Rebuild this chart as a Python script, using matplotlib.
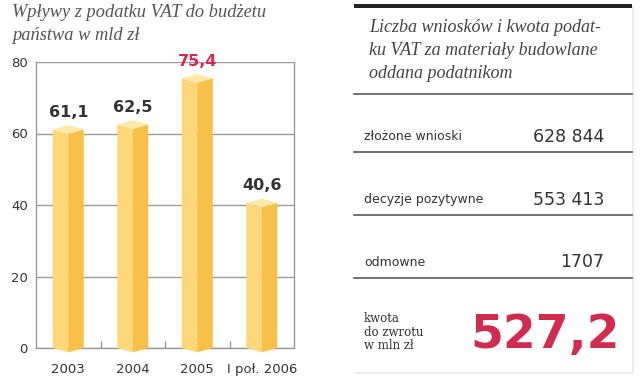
import matplotlib
matplotlib.use("Agg")
import matplotlib.pyplot as plt
from matplotlib.patches import Polygon, Rectangle

# left chart data
years = ["2003", "2004", "2005", "I poł. 2006"]
vat_bln = [61.1, 62.5, 75.4, 40.6]
value_labels = ["61,1", "62,5", "75,4", "40,6"]
highlight = 2
y_ticks = [0, 20, 40, 60, 80]

# right panel data
row_labels = ["złożone wnioski", "decyzje pozytywne", "odmowne"]
row_values = ["628 844", "553 413", "1707"]
refund_label = "kwota\ndo zwrotu\nw mln zł"
refund_value = "527,2"

LIGHT = "#fdd77a"
DARK = "#f8c048"
TOP = "#fee9a6"
RED = "#d02c50"
TXT = "#333333"
GRID = "#9a9a9a"

W, H = 640, 388
fig = plt.figure(figsize=(W / 100, H / 100), dpi=100)


def px_box(x0, y0, x1, y1):
    return [x0 / W, 1 - y1 / H, (x1 - x0) / W, (y1 - y0) / H]


# ---- bar chart ----
ax = fig.add_axes(px_box(36, 62, 294, 348))
ax.set_xlim(-0.5, len(years) - 0.5)
ax.set_ylim(0, 80)

half = 0.24
d = 1.2
for i, v in enumerate(vat_bln):
    ax.add_patch(Polygon([(i - half, 0), (i - half, v), (i, v - d), (i, -d)],
                         closed=True, fc=LIGHT, ec="none", zorder=3, clip_on=False))
    ax.add_patch(Polygon([(i, -d), (i, v - d), (i + half, v), (i + half, 0)],
                         closed=True, fc=DARK, ec="none", zorder=3, clip_on=False))
    ax.add_patch(Polygon([(i - half, v), (i, v - d), (i + half, v), (i, v + d)],
                         closed=True, fc=TOP, ec="none", zorder=4, clip_on=False))
    ax.annotate(value_labels[i], (i, v), xytext=(0, 7), textcoords="offset points",
                ha="center", va="bottom", fontsize=11.5, fontweight="bold",
                color=RED if i == highlight else TXT, zorder=5, annotation_clip=False)

ax.set_yticks(y_ticks)
ax.set_yticklabels([str(t) for t in y_ticks])
ax.yaxis.grid(True, color=GRID, linewidth=1)
ax.set_axisbelow(True)
ax.tick_params(axis="y", length=0, pad=6, labelsize=9.5, labelcolor=TXT)

ax.set_xticks(range(len(years)))
ax.set_xticklabels(years)
ax.set_xticks([0.5, 1.5, 2.5], minor=True)
ax.tick_params(axis="x", which="major", length=0, pad=11, labelsize=9.5, labelcolor=TXT)
ax.tick_params(axis="x", which="minor", direction="in", length=5, color=GRID, width=1)

for side in ["left", "right", "bottom"]:
    ax.spines[side].set_color(GRID)
    ax.spines[side].set_linewidth(1)
ax.spines["top"].set_visible(False)

# ---- overlay in pixel coordinates ----
ov = fig.add_axes([0, 0, 1, 1])
ov.set_xlim(0, W)
ov.set_ylim(H, 0)
ov.axis("off")
ov.patch.set_alpha(0)

ov.text(12, 4, "Wpływy z podatku VAT do budżetu\npaństwa w mld zł",
        family="Liberation Serif", style="italic", fontsize=13.2, color="#555555",
        ha="left", va="top", linespacing=1.45)

# panel
px0, px1 = 354, 632
ov.add_patch(Rectangle((px0 + 2, 6), px1 - px0, 368, fc="#ececec", ec="none", zorder=0))
ov.add_patch(Rectangle((px0, 4), px1 - px0, 368, fc="white", ec="none", zorder=1))
ov.add_patch(Rectangle((px0, 4), px1 - px0, 4, fc="#222222", ec="none", zorder=2))

ov.text(369, 19, "Liczba wniosków i kwota podat-\nku VAT za materiały budowlane\noddana podatnikom",
        family="Liberation Serif", style="italic", fontsize=13, color="#444444",
        ha="left", va="top", linespacing=1.45, zorder=3)

for y in [94, 152, 215, 278]:
    ov.plot([px0, px1], [y, y], color="#666666", linewidth=1.3, zorder=3)

row_y = [137, 200, 262]
for lab, val, y in zip(row_labels, row_values, row_y):
    ov.text(364, y, lab, fontsize=9, color=TXT, ha="left", va="center", zorder=3)
    ov.text(604, y, val, fontsize=12.5, color=TXT, ha="right", va="center", zorder=3)

ov.text(364, 332, refund_label, family="DejaVu Serif", fontsize=8.5, color=TXT,
        ha="left", va="center", linespacing=1.05, zorder=3)
ov.text(620, 348, refund_value, fontsize=34, fontweight="heavy", color=RED,
        ha="right", va="baseline", zorder=3)

fig.savefig("out.png", dpi=100)
